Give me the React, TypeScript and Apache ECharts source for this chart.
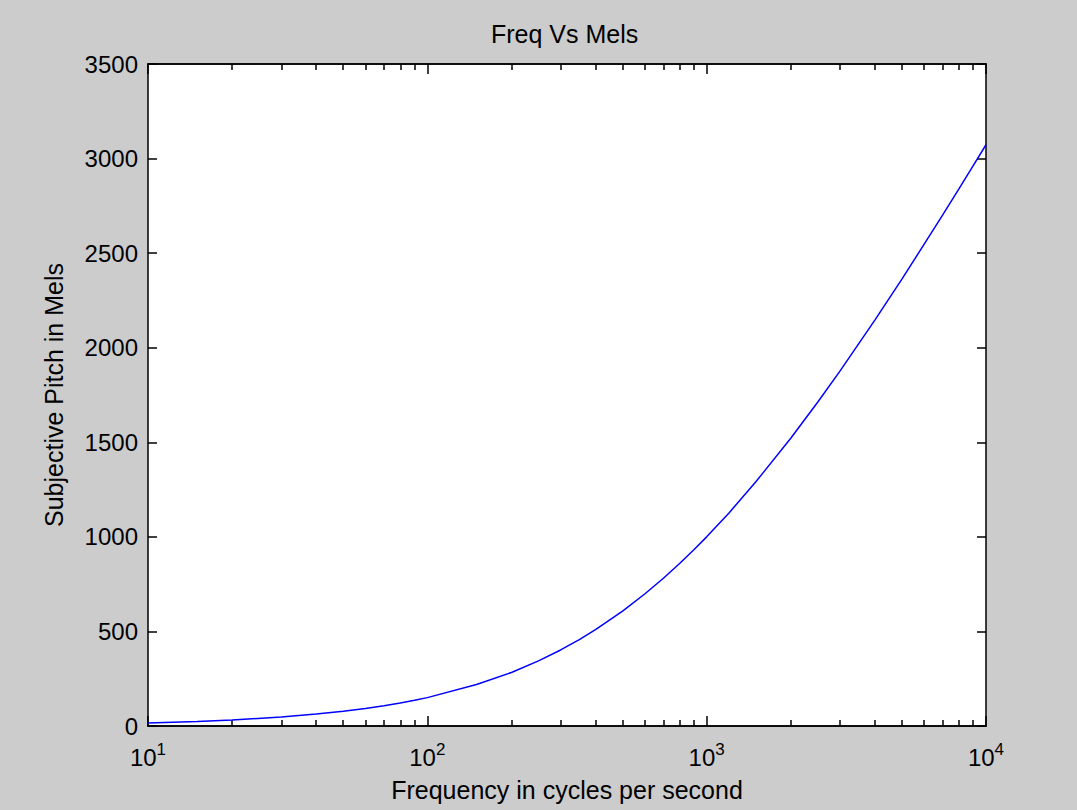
import React, { useEffect, useRef } from "react";
import * as echarts from "echarts";

// Frequency (Hz) and subjective pitch (mels) sampled along the curve
const frequencies = [
  10, 15, 20, 30, 40, 50, 60, 70, 80, 90, 100, 150, 200, 250, 300, 350, 400,
  500, 600, 700, 800, 900, 1000, 1200, 1500, 2000, 2500, 3000, 4000, 5000,
  6000, 7000, 8000, 9000, 10000,
];
const mels = [
  16, 24, 32, 47, 63, 78, 93, 107, 122, 136, 150, 219, 283, 344, 402, 457,
  509, 607, 698, 781, 859, 932, 1000, 1125, 1291, 1521, 1713, 1876, 2146,
  2363, 2546, 2702, 2840, 2963, 3073,
];

const decadeTicks = [10, 100, 1000, 10000];
const minorFreqTicks = [
  20, 30, 40, 50, 60, 70, 80, 90, 200, 300, 400, 500, 600, 700, 800, 900,
  2000, 3000, 4000, 5000, 6000, 7000, 8000, 9000,
];

const FONT = "'Liberation Sans', Arial, Helvetica, sans-serif";
const INK = "#000000";

export default function App() {
  const ref = useRef<HTMLDivElement>(null);

  useEffect(() => {
    if (!ref.current) return;
    const chart = echarts.init(ref.current, undefined, { renderer: "svg" });

    const logAxis = (position: "bottom" | "top", major: boolean, labels: boolean) => ({
      type: "log",
      logBase: 10,
      min: 10,
      max: 10000,
      position,
      axisLine: { show: true, lineStyle: { color: INK, width: 1.5 } },
      axisTick: {
        show: true,
        inside: true,
        length: major ? 10 : 6,
        lineStyle: { color: INK, width: 1.5 },
        customValues: major ? decadeTicks : minorFreqTicks,
      },
      axisLabel: labels
        ? {
            show: true,
            margin: 15,
            customValues: decadeTicks,
            formatter: (v: number) => `{n|10}{e|${Math.round(Math.log10(v))}}`,
            rich: {
              n: { fontSize: 24, fontFamily: FONT, color: INK, lineHeight: 28, verticalAlign: "bottom" },
              e: { fontSize: 17, fontFamily: FONT, color: INK, lineHeight: 17, verticalAlign: "top" },
            },
          }
        : { show: false },
      splitLine: { show: false },
      minorTick: { show: false },
      minorSplitLine: { show: false },
    });

    const valueAxis = (position: "left" | "right", labels: boolean) => ({
      type: "value",
      min: 0,
      max: 3500,
      interval: 500,
      position,
      axisLine: { show: true, lineStyle: { color: INK, width: 1.5 } },
      axisTick: { show: true, inside: true, length: 9, lineStyle: { color: INK, width: 1.5 } },
      axisLabel: labels
        ? {
            show: true,
            margin: 10,
            fontSize: 24,
            fontFamily: FONT,
            color: INK,
            formatter: (v: number) => String(v),
          }
        : { show: false },
      splitLine: { show: false },
    });

    chart.setOption({
      animation: false,
      backgroundColor: "#cccccc",
      title: {
        text: "Freq Vs Mels",
        left: 491,
        top: 21,
        padding: 0,
        textStyle: { fontSize: 25, fontWeight: "normal", fontFamily: FONT, color: INK },
      },
      grid: { left: 148, right: 91, top: 64, bottom: 84, show: true, backgroundColor: "#ffffff", borderWidth: 0 },
      xAxis: [
        {
          ...logAxis("bottom", true, true),
          name: "Frequency in cycles per second",
          nameLocation: "middle",
          nameGap: 51,
          nameTextStyle: { fontSize: 25, fontFamily: FONT, color: INK },
        },
        logAxis("bottom", false, false),
        logAxis("top", true, false),
        logAxis("top", false, false),
      ],
      yAxis: [
        {
          ...valueAxis("left", true),
          name: "Subjective Pitch in Mels",
          nameLocation: "middle",
          nameGap: 82,
          nameTextStyle: { fontSize: 25, fontFamily: FONT, color: INK },
        },
        valueAxis("right", false),
      ],
      series: [
        {
          type: "line",
          xAxisIndex: 0,
          yAxisIndex: 0,
          data: frequencies.map((f, i) => [f, mels[i]]),
          showSymbol: false,
          symbol: "none",
          lineStyle: { color: "#0000ff", width: 1.5 },
          clip: true,
        },
      ],
    });

    return () => chart.dispose();
  }, []);

  return (
    <div
      ref={ref}
      style={{ position: "fixed", left: 0, top: 0, width: 1077, height: 810 }}
    />
  );
}
